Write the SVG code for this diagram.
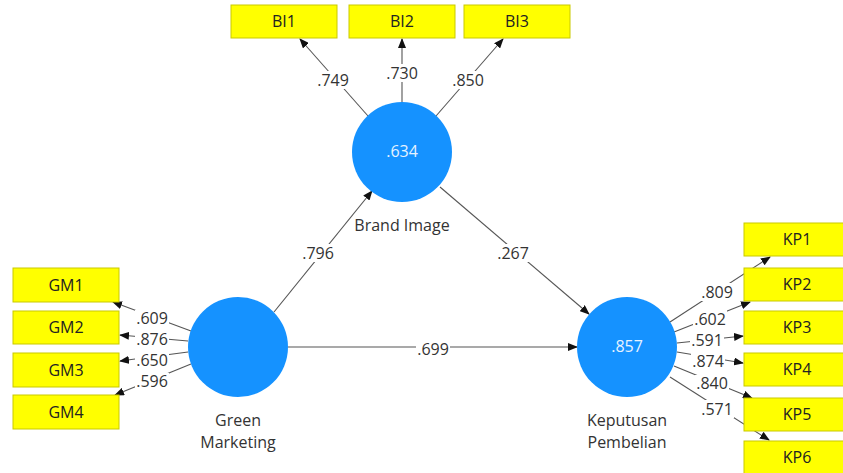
<svg xmlns="http://www.w3.org/2000/svg" width="843" height="473" viewBox="0 0 843 473">
<style>
text{font-family:"Open Sans","Noto Sans","Liberation Sans",sans-serif;font-size:16px;text-anchor:middle}
.box{fill:#FFFF00;stroke:#C9C900;stroke-width:1}
.bt{fill:#222}
.lv{fill:#1592FF}
.lt{fill:#E6F2FF}
.nl{fill:#333}
.c line{stroke:#555;stroke-width:1.1;marker-end:url(#ah)}
.lb rect{fill:#fff}
.lb text{fill:#333}
</style>
<defs>
<marker id="ah" markerWidth="10" markerHeight="8" refX="9" refY="4" orient="auto" markerUnits="userSpaceOnUse">
<path d="M0,0 L10,4 L0,8 z" fill="#111"/>
</marker>
</defs>
<rect width="843" height="473" fill="#fff"/>
<g class="c" id="connectors">
<line x1="368" y1="116" x2="300" y2="39"/>
<line x1="402" y1="102" x2="402" y2="39"/>
<line x1="436" y1="116" x2="503" y2="39"/>
<line x1="191" y1="331" x2="113" y2="302"/>
<line x1="188" y1="341" x2="120" y2="335"/>
<line x1="188" y1="352" x2="120" y2="361"/>
<line x1="191" y1="364" x2="115" y2="395"/>
<line x1="670" y1="322" x2="770" y2="257"/>
<line x1="674" y1="332" x2="750" y2="302"/>
<line x1="677" y1="343" x2="743" y2="336"/>
<line x1="677" y1="352" x2="743" y2="363"/>
<line x1="674" y1="366" x2="752" y2="398"/>
<line x1="670" y1="377" x2="769" y2="440"/>
<line x1="274" y1="312" x2="372" y2="191"/>
<line x1="440" y1="187" x2="589" y2="314"/>
<line x1="288" y1="347" x2="577" y2="347"/>
</g>
<g class="lb" id="labels">
<rect x="316" y="71" width="34" height="18"/><text x="333" y="86">.749</text>
<rect x="385" y="64" width="34" height="18"/><text x="402" y="79">.730</text>
<rect x="451" y="71" width="34" height="18"/><text x="468" y="86">.850</text>
<rect x="135" y="310" width="34" height="18"/><text x="152" y="324">.609</text>
<rect x="135" y="331" width="34" height="16"/><text x="152" y="345">.876</text>
<rect x="135" y="352" width="34" height="16"/><text x="152" y="366">.650</text>
<rect x="135" y="373" width="34" height="17"/><text x="152" y="387">.596</text>
<rect x="700" y="283" width="34" height="18"/><text x="717" y="298">.809</text>
<rect x="693" y="310" width="34" height="18"/><text x="710" y="325">.602</text>
<rect x="690" y="332" width="34" height="16"/><text x="707" y="346">.591</text>
<rect x="691" y="353" width="34" height="16"/><text x="708" y="367">.874</text>
<rect x="695" y="375" width="34" height="17"/><text x="712" y="389">.840</text>
<rect x="700" y="400" width="34" height="18"/><text x="717" y="415">.571</text>
<rect x="301" y="244" width="34" height="18"/><text x="318" y="259">.796</text>
<rect x="496" y="244" width="34" height="18"/><text x="513" y="259">.267</text>
<rect x="416" y="340" width="34" height="18"/><text x="433" y="355">.699</text>
</g>
<g id="BI1"><rect class="box" x="231" y="5" width="106" height="33"/><text class="bt" x="284" y="27">BI1</text></g>
<g id="BI2"><rect class="box" x="349" y="5" width="106" height="33"/><text class="bt" x="402" y="27">BI2</text></g>
<g id="BI3"><rect class="box" x="464" y="5" width="106" height="33"/><text class="bt" x="517" y="27">BI3</text></g>
<g id="GM1"><rect class="box" x="13" y="268" width="106" height="34"/><text class="bt" x="66" y="291">GM1</text></g>
<g id="GM2"><rect class="box" x="13" y="311" width="106" height="33"/><text class="bt" x="66" y="333">GM2</text></g>
<g id="GM3"><rect class="box" x="13" y="353" width="106" height="34"/><text class="bt" x="66" y="376">GM3</text></g>
<g id="GM4"><rect class="box" x="13" y="395" width="106" height="34"/><text class="bt" x="66" y="418">GM4</text></g>
<g id="KP1"><rect class="box" x="744" y="223" width="106" height="33"/><text class="bt" x="797" y="245">KP1</text></g>
<g id="KP2"><rect class="box" x="744" y="268" width="106" height="33"/><text class="bt" x="797" y="290">KP2</text></g>
<g id="KP3"><rect class="box" x="744" y="311" width="106" height="33"/><text class="bt" x="797" y="333">KP3</text></g>
<g id="KP4"><rect class="box" x="744" y="353" width="106" height="33"/><text class="bt" x="797" y="375">KP4</text></g>
<g id="KP5"><rect class="box" x="744" y="398" width="106" height="33"/><text class="bt" x="797" y="420">KP5</text></g>
<g id="KP6"><rect class="box" x="744" y="441" width="106" height="33"/><text class="bt" x="797" y="463">KP6</text></g>
<g id="BrandImage"><circle class="lv" cx="402" cy="152" r="50"/><text class="lt" x="402" y="157">.634</text><text class="nl" x="402" y="231">Brand Image</text></g>
<g id="GreenMarketing"><circle class="lv" cx="238" cy="347" r="50"/><text class="nl" x="238" y="426">Green</text><text class="nl" x="238" y="448">Marketing</text></g>
<g id="KeputusanPembelian"><circle class="lv" cx="627" cy="347" r="50"/><text class="lt" x="627" y="352">.857</text><text class="nl" x="627" y="426">Keputusan</text><text class="nl" x="627" y="448">Pembelian</text></g>
</svg>
